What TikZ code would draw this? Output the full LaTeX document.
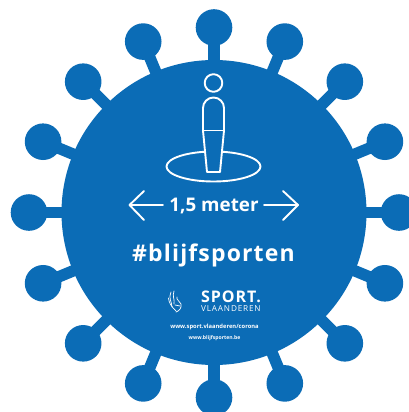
\documentclass[tikz,border=0pt]{standalone}
\usepackage{fontspec}
\setmainfont{Open Sans}
\newfontfamily\tagfont[LetterSpace=5]{Open Sans}
\newfontfamily\logofont[LetterSpace=6]{Open Sans}
\newfontfamily\subfont[LetterSpace=10]{Open Sans}
\definecolor{virus}{HTML}{0B6CB6}
\tikzset{
  stem/.style={draw=virus,line width=11.5pt},
  ball/.style={fill=virus},
  wline/.style={draw=white,line width=1.9pt,line join=round,line cap=round},
  lionline/.style={draw=white,line width=.7pt,line cap=round},
  wtext/.style={text=white,inner sep=0pt,anchor=base},
}
\begin{document}
\begin{tikzpicture}[x=1pt,y=-1pt]
\useasboundingbox (0,0) rectangle (409,412);
\clip (0,0) rectangle (409,412);
\fill[white] (0,0) rectangle (409,412);
\coordinate (c) at (214,212.5);
% spikes
\foreach \a in {0,22.5,...,337.5}{
  \draw[stem] (c) -- ++(\a:176);
  \fill[ball] (c) ++(\a:185) circle (18.3);
}
\fill[virus] (c) circle (152.5);
% figure
\draw[wline] (213.5,166.5) ellipse (47 and 15);
\draw[wline,fill=virus] (207,172) -- (203,130.5) -- (203,108) arc[start angle=180,end angle=360,radius=10.5] -- (224,130.5) -- (220,172) -- cycle;
\draw[wline] (203,130.5) -- (224,130.5);
\draw[wline] (213.5,83) circle (8.8);
% arrows
\coordinate (lt) at (129.5,205);
\coordinate (ll) at (163,205);
\coordinate (rt) at (298,205);
\coordinate (rl) at (264,205);
\draw[wline] (ll) -- (lt);
\draw[wline] (144,191) -- (lt) -- (144,220);
\draw[wline] (rl) -- (rt);
\draw[wline] (283,191) -- (rt) -- (283,220);
% texts
\node[wtext,font=\fontsize{18.8}{21}\selectfont\bfseries] (dist) at (214,211.5) {1,5 meter};
\node[wtext,font=\fontsize{23}{24}\selectfont\tagfont\bfseries] (hash) at (213.5,261.5) {\#blijfsporten};
\node[wtext,font=\fontsize{16}{16}\selectfont\logofont\bfseries,anchor=base west] (sport) at (201,302) {SPORT.};
\node[wtext,font=\fontsize{8.2}{8}\selectfont\subfont,anchor=base west] (vl) at (201,311.5) {VLAANDEREN};
\node[wtext,font=\fontsize{5.8}{6}\selectfont\bfseries] (url1) at (214.5,328) {www.sport.vlaanderen/corona};
\node[wtext,font=\fontsize{5.1}{6}\selectfont\bfseries] (url2) at (214.5,339) {www.blijfsporten.be};
% lion emblem
\draw[lionline] (171,292) .. controls (168,298) and (172,302) .. (172,307);
\draw[lionline] (174,291) .. controls (172,296) and (175,300) .. (174,304);
\draw[lionline] (168.5,298) .. controls (169,303) and (171,306) .. (176,311);
\draw[lionline] (177,297) .. controls (176,300) and (180,301) .. (181,304) .. controls (182,308) and (179,311) .. (176,312);
\draw[lionline] (175,305) -- (180,306);
\end{tikzpicture}
\end{document}
